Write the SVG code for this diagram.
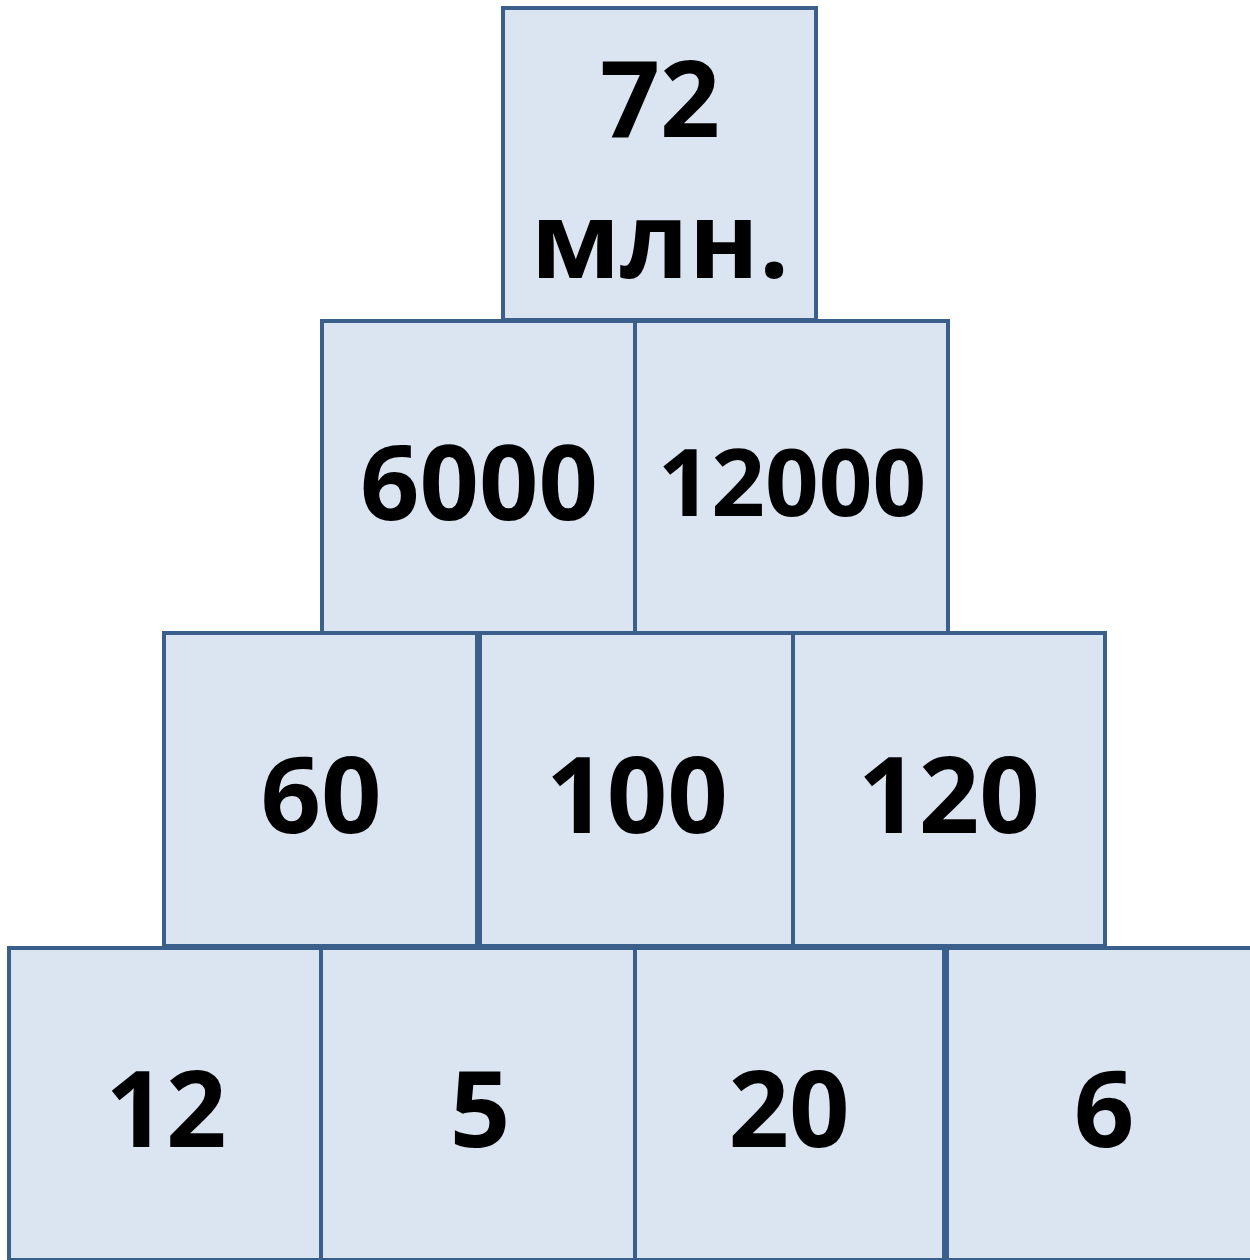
<svg xmlns="http://www.w3.org/2000/svg" width="1250" height="1260" viewBox="0 0 1250 1260">
<style>
.b{fill:#DBE5F1;stroke:#3A5F8B;stroke-width:4}
.t{font-family:"Open Sans","Liberation Sans",sans-serif;font-weight:bold;fill:#000;text-anchor:middle}
</style>
<rect width="1250" height="1260" fill="#fff"/>
<g id="n72"><rect class="b" x="503" y="8" width="313" height="312"/><text class="t" x="660" y="137" font-size="105">72</text><text class="t" x="660" y="278" font-size="106">млн.</text></g>
<g id="n6000"><rect class="b" x="322" y="321" width="313" height="312"/><text class="t" x="479" y="520" font-size="104">6000</text></g>
<g id="n12000"><rect class="b" x="635" y="321" width="313" height="312"/><text class="t" x="792" y="516" font-size="94">12000</text></g>
<g id="n60"><rect class="b" x="164" y="633" width="313" height="313"/><text class="t" x="321" y="833" font-size="106">60</text></g>
<g id="n100"><rect class="b" x="480" y="633" width="313" height="313"/><text class="t" x="637" y="833" font-size="106">100</text></g>
<g id="n120"><rect class="b" x="793" y="633" width="312" height="313"/><text class="t" x="949" y="833" font-size="106">120</text></g>
<g id="n12"><rect class="b" x="9" y="948" width="312" height="312"/><text class="t" x="166" y="1147" font-size="106">12</text></g>
<g id="n5"><rect class="b" x="321" y="948" width="314" height="312"/><text class="t" x="480" y="1147" font-size="106">5</text></g>
<g id="n20"><rect class="b" x="635" y="948" width="309" height="312"/><text class="t" x="789" y="1147" font-size="106">20</text></g>
<g id="n6"><rect class="b" x="947" y="948" width="313" height="312"/><text class="t" x="1104" y="1147" font-size="106">6</text></g>
<g id="connectors"/>
</svg>
